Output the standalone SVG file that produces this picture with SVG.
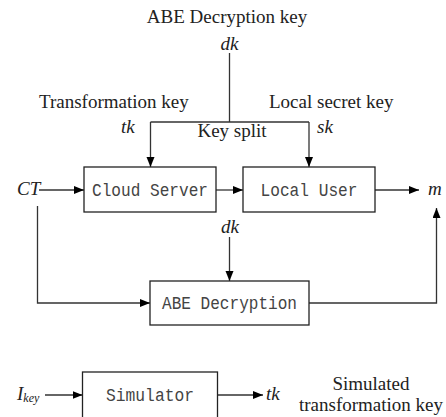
<svg xmlns="http://www.w3.org/2000/svg" width="446" height="417" viewBox="0 0 446 417">
  <style>
    .box { fill: #ffffff; stroke: #222222; stroke-width: 1.3; }
    .wire { fill: none; stroke: #333333; stroke-width: 1.3; }
    .serif { font-family: "Liberation Serif", "Times New Roman", serif; font-size: 19px; fill: #222222; }
    .it { font-style: italic; }
    .mono { font-family: "Liberation Mono", "Courier New", monospace; font-size: 18px; fill: #444444; }
  </style>
  <defs>
    <marker id="arrow" markerUnits="userSpaceOnUse" markerWidth="11" markerHeight="9" refX="10" refY="4" orient="auto">
      <path d="M0,0 L10,4 L0,8 z" fill="#000000"/>
    </marker>
  </defs>

  <rect width="446" height="417" fill="#ffffff"/>

  <!-- free labels -->
  <g id="labels" class="serif">
    <text x="227" y="23" text-anchor="middle">ABE Decryption key</text>
    <text x="229.5" y="50" text-anchor="middle" class="it">dk</text>
    <text x="39" y="108">Transformation key</text>
    <text x="269" y="108">Local secret key</text>
    <text x="121" y="133" class="it">tk</text>
    <text x="317" y="133" class="it">sk</text>
    <text x="232" y="137" text-anchor="middle">Key split</text>
    <text x="17" y="195" class="it">CT</text>
    <text x="428" y="195" class="it">m</text>
    <text x="230" y="233" text-anchor="middle" class="it">dk</text>
    <text x="17" y="400" class="it">I<tspan font-size="12" dy="2">key</tspan></text>
    <text x="266" y="400" class="it">tk</text>
    <text x="371" y="390" text-anchor="middle">Simulated</text>
    <text x="371" y="411" text-anchor="middle">transformation key</text>
  </g>

  <!-- connectors -->
  <g id="connectors">
    <path class="wire" d="M229.5,53 V122"/>
    <path class="wire" d="M150.5,122 H309"/>
    <path class="wire" d="M150.5,122 V167" marker-end="url(#arrow)"/>
    <path class="wire" d="M309,122 V167" marker-end="url(#arrow)"/>
    <path class="wire" d="M39,190 H84" marker-end="url(#arrow)"/>
    <path class="wire" d="M216,190 H243" marker-end="url(#arrow)"/>
    <path class="wire" d="M375,190 H419" marker-end="url(#arrow)"/>
    <path class="wire" d="M229.5,237 V281" marker-end="url(#arrow)"/>
    <path class="wire" d="M37.5,206 V303 H150" marker-end="url(#arrow)"/>
    <path class="wire" d="M309,303 H436.5 V208" marker-end="url(#arrow)"/>
    <path class="wire" d="M45,395 H82.5" marker-end="url(#arrow)"/>
    <path class="wire" d="M217.5,395 H263" marker-end="url(#arrow)"/>
  </g>

  <!-- process boxes -->
  <g id="cloud-server">
    <rect class="box" x="84" y="167" width="132" height="45"/>
    <text class="mono" x="150" y="196" text-anchor="middle" textLength="116" lengthAdjust="spacingAndGlyphs">Cloud Server</text>
  </g>
  <g id="local-user">
    <rect class="box" x="243" y="167" width="132" height="45"/>
    <text class="mono" x="309" y="196" text-anchor="middle" textLength="97" lengthAdjust="spacingAndGlyphs">Local User</text>
  </g>
  <g id="abe-decryption">
    <rect class="box" x="150" y="281" width="159" height="44"/>
    <text class="mono" x="229.5" y="309" text-anchor="middle" textLength="135" lengthAdjust="spacingAndGlyphs">ABE Decryption</text>
  </g>
  <g id="simulator">
    <rect class="box" x="82.5" y="372" width="135" height="50"/>
    <text class="mono" x="150" y="401" text-anchor="middle" textLength="88" lengthAdjust="spacingAndGlyphs">Simulator</text>
  </g>
</svg>
